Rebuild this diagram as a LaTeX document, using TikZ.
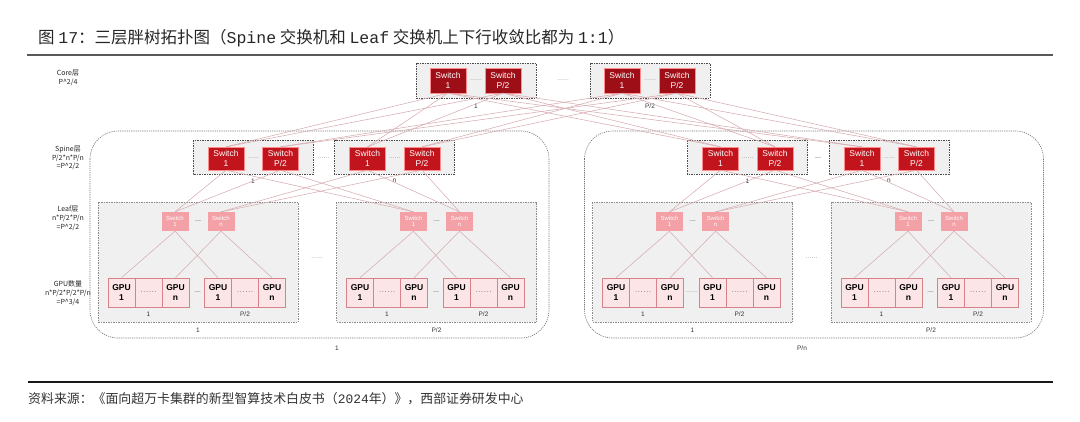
\documentclass[tikz,border=0pt]{standalone}
\usepackage{fontspec}
\setmainfont{Liberation Sans}
\newfontfamily\cjk{Noto Sans CJK SC}
\newfontfamily\mono{Liberation Mono}
\usetikzlibrary{positioning}

\definecolor{corered}{RGB}{158,14,22}
\definecolor{spinered}{RGB}{194,20,28}
\definecolor{leafpink}{RGB}{243,160,166}
\definecolor{gpupink}{RGB}{251,229,231}
\definecolor{gpuedge}{RGB}{214,130,138}
\definecolor{boxgray}{RGB}{240,240,240}
\definecolor{linkpink}{RGB}{214,172,177}

\tikzset{
  sw/.style={fill=spinered, draw=red!45!white, line width=0.3pt, text=white,
    minimum width=36pt, minimum height=23pt, inner sep=0pt, align=center,
    font=\fontsize{8.5}{9.5}\selectfont},
  coresw/.style={sw, fill=corered, minimum height=25pt},
  leafsw/.style={sw, fill=leafpink, draw=none, minimum width=27pt,
    minimum height=19pt, font=\fontsize{6}{6.5}\selectfont},
  gpu/.style={fill=gpupink, draw=gpuedge, line width=0.6pt, minimum width=27pt,
    minimum height=29pt, inner sep=0pt, align=center,
    font=\bfseries\fontsize{8.5}{10}\selectfont},
  grp/.style={fill=boxgray, draw=black!70, dash pattern=on 1.5pt off 1pt, line width=0.5pt},
  pod/.style={draw=black!55, dash pattern=on 1.2pt off 1pt, line width=0.6pt, rounded corners=28pt},
  link/.style={draw=linkpink, line width=0.55pt},
  lbl/.style={font=\fontsize{6.5}{8.5}\selectfont, text=black!80, inner sep=0pt, align=center},
  side/.style={lbl, font=\cjk\fontsize{7}{8.8}\selectfont, text=black!85},
  dots/.style={font=\fontsize{6}{6}\selectfont, text=black!50, inner sep=0pt},
}

\begin{document}
\begin{tikzpicture}[x=1pt, y=-1pt]
\useasboundingbox (0,0) rectangle (1080,421);

% Title, rules and source
\node[anchor=west, font=\cjk\fontsize{16.5}{16.5}\selectfont, text=black!85, inner sep=0pt] (title) at (38,38)
  {图 {\mono 17}：三层胖树拓扑图（{\mono Spine} 交换机和 {\mono Leaf} 交换机上下行收敛比都为 {\mono 1:1}）};
\draw[black!65, line width=1.6pt] (27,55) -- (1053,55);
\draw[black!90, line width=1.2pt] (28,382) -- (1053,382);
\node[anchor=west, font=\cjk\fontsize{12.9}{12.9}\selectfont, text=black!80, inner sep=0pt] (source) at (28,399)
  {资料来源：《面向超万卡集群的新型智算技术白皮书（{\mono 2024}年）》，西部证券研发中心};

% Layer labels on the left
\node[side] (lcore) at (68,78) {Core层\\P\textasciicircum 2/4};
\node[side] (lspine) at (68,158) {Spine层\\P/2*n*P/n\\=P\textasciicircum 2/2};
\node[side] (lleaf) at (68,218) {Leaf层\\n*P/2*P/n\\=P\textasciicircum 2/2};
\node[side] (lgpu) at (68,293) {GPU数量\\n*P/2*P/2*P/n\\=P\textasciicircum 3/4};

% Core layer: groups 1 ... P/2
\foreach \g/\gx/\gl in {1/416/1, 2/590/{P/2}} {
  \draw[grp] (\gx,63) rectangle (\gx+120,98);
  \node[coresw] (c\g1) at (\gx+32,80.5) {Switch\\1};
  \node[coresw] (c\g2) at (\gx+87,80.5) {Switch\\P/2};
  \node[dots] (cdots\g) at (\gx+60,80.5) {……};
  \node[lbl] (clbl\g) at (\gx+60,106) {\gl};
}
\node[dots] (cgap) at (563,80.5) {……};

% Pods: 1 ... P/n
\foreach \p/\podlbl/\px/\gapmark in {0/1/337/……, 1/{P/n}/802/—} {
  \pgfmathsetmacro\ox{494.5*\p}
  \draw[pod] (90+\ox,131) rectangle (549+\ox,338);
  \node[lbl] (podlbl\p) at (\px,348) {\podlbl};

  % Spine groups 1 ... n
  \foreach \g/\gl in {1/1, 2/n} {
    \pgfmathsetmacro\gx{193+141.5*(\g-1)+\ox}
    \draw[grp] (\gx,140) rectangle (\gx+120,174);
    \node[sw] (s\p\g1) at (\gx+33,158.5) {Switch\\1};
    \node[sw] (s\p\g2) at (\gx+87.5,158.5) {Switch\\P/2};
    \node[dots] (sdots\p\g) at (\gx+60,158.5) {……};
    \node[lbl] (slbl\p\g) at (\gx+60,181) {\gl};
  }
  \node[dots] (sgap\p) at (323.5+\ox,158.5) {\gapmark};

  % Leaf boxes 1 ... P/2, each with its GPU groups
  \foreach \b/\bl in {1/1, 2/{P/2}} {
    \pgfmathsetmacro\bx{98+238.5*(\b-1)+\ox}
    \draw[grp, draw=black!45] (\bx,202) rectangle (\bx+200,322);
    \node[leafsw] (l\p\b1) at (\bx+77,221.5) {Switch\\1};
    \node[leafsw] (l\p\b2) at (\bx+123,221.5) {Switch\\n};
    \node[dots] (ldash\p\b) at (\bx+100,221.5) {—};
    \node[lbl] (llbl\p\b) at (\bx+100,330) {\bl};
    \foreach \q/\ql in {1/1, 2/{P/2}} {
      \pgfmathsetmacro\qx{\bx+10+96.5*(\q-1)}
      \node[gpu] (g\p\b\q1) at (\qx+13.5,292.5) {GPU\\1};
      \node[gpu] (g\p\b\q2) at (\qx+40.5,292.5) {\normalfont\textcolor{black!50}{……}};
      \node[gpu] (g\p\b\q3) at (\qx+67.5,292.5) {GPU\\n};
      \node[lbl] (glbl\p\b\q) at (\qx+40.5,314) {\ql};
    }
    \node[dots] (gdash\p\b) at (\bx+99.5,292.5) {\ifnum\p\b=11 ……\else —\fi};
  }
  \node[dots] (lgap\p) at (317+\ox,258.5) {……};

  % Leaf to GPU
  \foreach \b in {1,2} \foreach \q in {1,2} {
    \draw[link] (l\p\b1.south) -- (g\p\b\q1.north);
    \draw[link] (l\p\b2.south) -- (g\p\b\q3.north);
  }
  % Spine to leaf
  \foreach \g in {1,2} \foreach \k in {1,2} \foreach \b in {1,2}
    \draw[link] (s\p\g\k.south) -- (l\p\b\g.north);
  % Core to spine
  \foreach \g in {1,2} \foreach \k in {1,2} \foreach \c in {1,2}
    \draw[link] (c\k\c.south) -- (s\p\g\k.north);
}

\end{tikzpicture}
\end{document}
